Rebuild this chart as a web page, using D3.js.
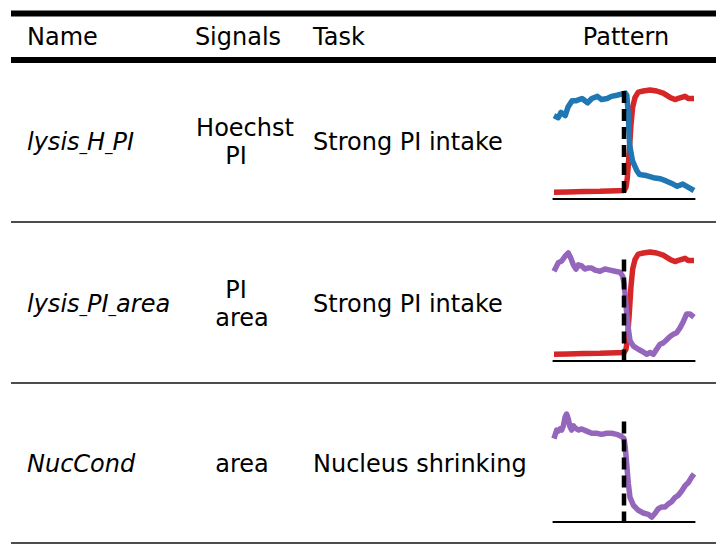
<!DOCTYPE html>
<html>
<head>
<meta charset="utf-8">
<script src="https://cdn.jsdelivr.net/npm/d3@7"></script>
<style>
  body { margin: 0; background: #fff; }
  text { font-family: "DejaVu Sans", sans-serif; fill: #000; }
</style>
</head>
<body>
<div class="container"></div>
<script>
// table content
var headers = ["Name", "Signals", "Task", "Pattern"];
var names = [["lysis", "H", "PI"], ["lysis", "PI", "area"], ["NucCond"]];
var signals = [["Hoechst", "PI"], ["PI", "area"], ["area"]];
var tasks = ["Strong PI intake", "Strong PI intake", "Nucleus shrinking"];
var eventTime = 50;
var eventTop = [1.0, 0.94, 0.93];

// pattern series (time 0-100, normalised value)
var hoechstT = [0, 3, 5, 8, 10, 13, 16, 20, 24, 27, 31, 34, 38, 41, 45, 48, 51, 52, 53, 54, 56, 59, 61, 66, 71, 76, 80, 85, 88, 92, 96, 100];
var hoechstV = [0.77, 0.75, 0.80, 0.77, 0.85, 0.91, 0.91, 0.93, 0.89, 0.93, 0.95, 0.92, 0.93, 0.95, 0.96, 0.97, 0.98, 0.96, 0.79, 0.50, 0.35, 0.26, 0.22, 0.21, 0.19, 0.18, 0.16, 0.13, 0.11, 0.13, 0.10, 0.07];

var piT = [0, 10, 21, 33, 45, 50, 51.4, 52.4, 53.8, 55, 56.2, 57.9, 60.2, 63.8, 68.6, 73.3, 78, 82.9, 86.4, 88.8, 91.2, 93.6, 95.9, 100];
var piV = [0.053, 0.055, 0.06, 0.062, 0.068, 0.07, 0.10, 0.19, 0.44, 0.69, 0.85, 0.94, 0.99, 1.0, 1.01, 1.0, 0.98, 0.94, 0.92, 0.93, 0.94, 0.95, 0.93, 0.93];

var areaLT = [0, 3.1, 5.5, 7.9, 10.2, 11.9, 13.8, 15.7, 17.4, 19.8, 22.1, 24.5, 26.9, 29.3, 32.9, 36.4, 40, 43.6, 47.1, 49, 50, 50.9, 51.9, 53.1, 54.3, 56.7, 60.2, 63.8, 66.2, 68.6, 71, 73.3, 75.7, 78.1, 80.5, 82.9, 85.2, 87.6, 90, 92.4, 94.8, 97.1, 100];
var areaLV = [0.83, 0.91, 0.925, 0.97, 1.0, 0.955, 0.89, 0.85, 0.89, 0.88, 0.85, 0.86, 0.86, 0.84, 0.83, 0.85, 0.84, 0.83, 0.82, 0.785, 0.72, 0.60, 0.44, 0.29, 0.18, 0.13, 0.10, 0.075, 0.053, 0.07, 0.053, 0.10, 0.147, 0.16, 0.19, 0.22, 0.24, 0.255, 0.30, 0.36, 0.43, 0.43, 0.40];

var areaNT = [0, 1.9, 3.1, 4.3, 5.5, 6.7, 7.9, 9.0, 10.2, 11.4, 12.6, 13.8, 15, 17.4, 19.8, 23.3, 26.9, 30.5, 34, 37.6, 41.2, 44.8, 48.3, 50, 50.9, 51.9, 53.1, 54.3, 56.7, 60.2, 63.8, 67.4, 69.8, 72.1, 74.5, 76.9, 79.3, 81.7, 84, 86.4, 88.8, 91.2, 93.6, 96, 98.3, 100];
var areaNV = [0.77, 0.85, 0.84, 0.86, 0.85, 0.89, 0.97, 1.0, 0.955, 0.88, 0.85, 0.89, 0.87, 0.85, 0.86, 0.84, 0.82, 0.82, 0.81, 0.82, 0.82, 0.81, 0.79, 0.77, 0.69, 0.535, 0.35, 0.22, 0.147, 0.10, 0.075, 0.062, 0.037, 0.07, 0.115, 0.13, 0.13, 0.16, 0.18, 0.22, 0.24, 0.28, 0.33, 0.36, 0.41, 0.44];

var blue = "#1f77b4", red = "#d62728", purple = "#9467bd";

var patterns = [
    [{t: piT, v: piV, color: red}, {t: hoechstT, v: hoechstV, color: blue}],
    [{t: piT, v: piV, color: red}, {t: areaLT, v: areaLV, color: purple}],
    [{t: areaNT, v: areaNV, color: purple}]
];

var svgWidth = 716, svgHeight = 545;
var rowTops = [60, 222, 383, 543];
var fontSize = "24px";

var svg = d3.select(".container")
    .append("svg")
    .attr("width", svgWidth)
    .attr("height", svgHeight);

// rules
svg.append("line").attr("x1", 11).attr("x2", 716).attr("y1", 13.5).attr("y2", 13.5)
    .attr("stroke", "#000").attr("stroke-width", 6);
svg.append("line").attr("x1", 11).attr("x2", 716).attr("y1", 60).attr("y2", 60)
    .attr("stroke", "#000").attr("stroke-width", 6);
[1, 2, 3].forEach(i => {
    svg.append("line").attr("x1", 11).attr("x2", 716)
        .attr("y1", rowTops[i]).attr("y2", rowTops[i])
        .attr("stroke", "#111").attr("stroke-width", 1.5);
});

// header
var headX = [27, 238, 313, 626];
var headAnchor = ["start", "middle", "start", "middle"];
headers.forEach((h, i) => {
    svg.append("text")
        .attr("x", headX[i]).attr("y", 45)
        .attr("text-anchor", headAnchor[i])
        .attr("font-size", fontSize)
        .text(h);
});

var x = d3.scaleLinear().domain([0, 100]).range([554, 694]);
var sigDx = [[5, -4], [-4, 2], [2]];

names.forEach((parts, r) => {
    var top = rowTops[r];
    var mid = (rowTops[r] + rowTops[r + 1]) / 2;

    // name, italic, with small underscores
    var t = svg.append("text")
        .attr("x", 27).attr("y", mid + 9)
        .attr("font-size", fontSize)
        .attr("font-style", "italic");
    parts.forEach((p, k) => {
        if (k > 0) t.append("tspan").attr("font-size", "15px").text("_");
        t.append("tspan").text(p);
    });

    // signals
    var sig = signals[r];
    var lineH = 28;
    var y0 = mid + 9 - (sig.length - 1) * lineH / 2;
    sig.forEach((s, k) => {
        svg.append("text")
            .attr("x", 240 + sigDx[r][k]).attr("y", y0 + k * lineH)
            .attr("text-anchor", "middle")
            .attr("font-size", fontSize)
            .text(s);
    });

    // task
    svg.append("text")
        .attr("x", 313).attr("y", mid + 9)
        .attr("font-size", fontSize)
        .text(tasks[r]);

    // pattern
    var base = top + 138;
    var y = d3.scaleLinear().domain([0, 1]).range([base, base - 107]);
    var g = svg.append("g");
    g.append("line")
        .attr("x1", x(-1)).attr("x2", x(101))
        .attr("y1", base + 1).attr("y2", base + 1)
        .attr("stroke", "#000").attr("stroke-width", 2);

    var line = d3.line().x(d => x(d[0])).y(d => y(d[1])).curve(d3.curveLinear);
    patterns[r].forEach(s => {
        g.append("path")
            .datum(s.t.map((tv, k) => [tv, s.v[k]]))
            .attr("d", line)
            .attr("fill", "none")
            .attr("stroke", s.color)
            .attr("stroke-width", 5.5)
            .attr("stroke-linejoin", "round");
    });

    g.append("line")
        .attr("x1", x(eventTime)).attr("x2", x(eventTime))
        .attr("y1", y(eventTop[r])).attr("y2", base)
        .attr("stroke", "#000").attr("stroke-width", 4.5)
        .attr("stroke-dasharray", "12,6");
});
</script>
</body>
</html>
